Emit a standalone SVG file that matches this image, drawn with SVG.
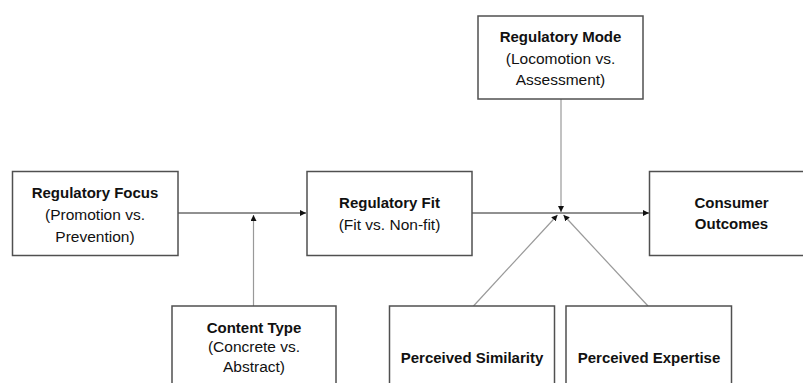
<svg xmlns="http://www.w3.org/2000/svg" width="803" height="383" viewBox="0 0 803 383">
<style>
.box{fill:#fff;stroke:#505050;stroke-width:1.5}
.t{font-family:"Liberation Sans",Arial,sans-serif;text-anchor:middle;fill:#111}
.b{font-weight:bold;font-size:15px}
.r{font-size:15.5px}
.h{stroke:#222;stroke-width:1;fill:none}
.g{stroke:#999;stroke-width:1.2;fill:none}
</style>
<defs>
<marker id="ah" viewBox="0 0 8 8" refX="8" refY="4" markerWidth="6" markerHeight="6" markerUnits="userSpaceOnUse" orient="auto">
<path d="M0,0 L8,4 L0,8 Z" fill="#111"/>
</marker>
</defs>
<rect width="803" height="383" fill="#fff"/>
<g id="connectors">
<line class="h" x1="178" y1="213" x2="306" y2="213" marker-end="url(#ah)"/>
<line class="h" x1="472" y1="213" x2="649" y2="213" marker-end="url(#ah)"/>
<line class="g" x1="253.5" y1="306" x2="253.5" y2="215" marker-end="url(#ah)"/>
<line class="g" x1="561" y1="99" x2="561" y2="212" marker-end="url(#ah)"/>
<line class="g" x1="473.5" y1="306" x2="557.5" y2="215" marker-end="url(#ah)"/>
<line class="g" x1="648" y1="306" x2="563.5" y2="215" marker-end="url(#ah)"/>
</g>
<g id="regulatory-focus">
<rect class="box" x="12.5" y="171.5" width="165.5" height="84"/>
<text class="t b" x="95" y="198">Regulatory Focus</text>
<text class="t r" x="95" y="220">(Promotion vs.</text>
<text class="t r" x="95" y="241.5">Prevention)</text>
</g>
<g id="regulatory-fit">
<rect class="box" x="307" y="171.5" width="165" height="84"/>
<text class="t b" x="389.5" y="208">Regulatory Fit</text>
<text class="t r" x="389.5" y="230">(Fit vs. Non-fit)</text>
</g>
<g id="regulatory-mode">
<rect class="box" x="478" y="16" width="165" height="83"/>
<text class="t b" x="560.5" y="42">Regulatory Mode</text>
<text class="t r" x="560.5" y="63.5">(Locomotion vs.</text>
<text class="t r" x="560.5" y="85">Assessment)</text>
</g>
<g id="consumer-outcomes">
<rect class="box" x="649.5" y="171.5" width="165" height="84"/>
<text class="t b" x="731.5" y="208">Consumer</text>
<text class="t b" x="731.5" y="229">Outcomes</text>
</g>
<g id="content-type">
<rect class="box" x="172" y="306" width="164" height="90"/>
<text class="t b" x="254" y="332.5">Content Type</text>
<text class="t r" x="254" y="352">(Concrete vs.</text>
<text class="t r" x="254" y="372">Abstract)</text>
</g>
<g id="perceived-similarity">
<rect class="box" x="389.5" y="306" width="165" height="90"/>
<text class="t b" x="472" y="362.5">Perceived Similarity</text>
</g>
<g id="perceived-expertise">
<rect class="box" x="566" y="306" width="165.5" height="90"/>
<text class="t b" x="649" y="362.5">Perceived Expertise</text>
</g>
</svg>
